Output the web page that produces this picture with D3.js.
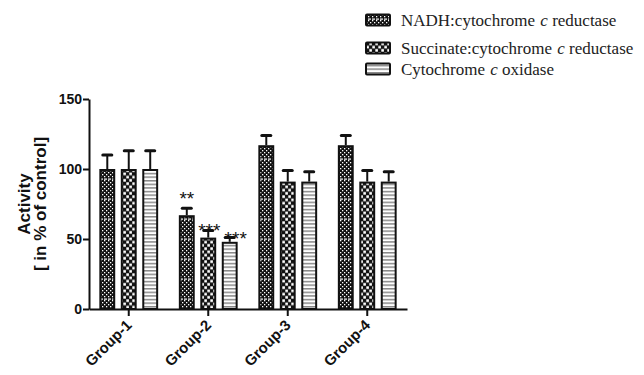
<!DOCTYPE html>
<html>
<head>
<meta charset="utf-8">
<script src="https://cdn.jsdelivr.net/npm/d3@7"></script>
<style>
  body { margin: 0; background: #fff; }
  svg { display: block; }
</style>
</head>
<body>
<script>
const groups = ["Group-1", "Group-2", "Group-3", "Group-4"];
const seriesNames = ["NADH:cytochrome c reductase", "Succinate:cytochrome c reductase", "Cytochrome c oxidase"];
const nadh = [100, 67, 117, 117];
const succinate = [100, 51, 91, 91];
const oxidase = [100, 48, 91, 91];
const nadhErr = [10, 5, 7, 7];
const succinateErr = [13, 5, 8, 8];
const oxidaseErr = [13, 3, 7, 7];
const stars = [["Group-2", 0, "**"], ["Group-2", 1, "***"], ["Group-2", 2, "***"]];
const yTicks = [0, 50, 100, 150];

const w = 644, h = 375;
const values = [nadh, succinate, oxidase];
const errs = [nadhErr, succinateErr, oxidaseErr];

const svg = d3.select("body").append("svg")
  .attr("width", w)
  .attr("height", h);

// fill patterns
const defs = svg.append("defs");
const p1 = defs.append("pattern").attr("id", "pat0")
  .attr("patternUnits", "userSpaceOnUse").attr("width", 4).attr("height", 20);
p1.append("rect").attr("width", 4).attr("height", 20).attr("fill", "#111");
for (let yy = 0; yy < 18; yy += 2) {
  p1.append("rect").attr("x", yy % 4 === 0 ? 0 : 2).attr("y", yy).attr("width", 1.3).attr("height", 1.3).attr("fill", "#fff");
}
p1.append("rect").attr("x", 0).attr("y", 18.5).attr("width", 3).attr("height", 1.2).attr("fill", "#fff");

const p2 = defs.append("pattern").attr("id", "pat1")
  .attr("patternUnits", "userSpaceOnUse").attr("width", 6).attr("height", 6.5);
p2.append("rect").attr("width", 6).attr("height", 6.5).attr("fill", "#111");
p2.append("rect").attr("x", 0.3).attr("y", 0.3).attr("width", 2.6).attr("height", 2.7).attr("fill", "#fff");
p2.append("rect").attr("x", 3.3).attr("y", 3.5).attr("width", 2.6).attr("height", 2.7).attr("fill", "#fff");

const p3 = defs.append("pattern").attr("id", "pat2")
  .attr("patternUnits", "userSpaceOnUse").attr("width", 4).attr("height", 3.6);
p3.append("rect").attr("width", 4).attr("height", 3.6).attr("fill", "#fff");
p3.append("rect").attr("y", 0).attr("width", 4).attr("height", 1.5).attr("fill", "#888");

const x0 = d3.scaleBand().domain(groups).range([89, 407])
  .paddingInner(0.19).paddingOuter(0.095);
const x1 = d3.scaleBand().domain(d3.range(3)).range([0, x0.bandwidth()])
  .paddingInner(0.26).paddingOuter(0.13);
const y = d3.scaleLinear().domain([0, 150]).range([309, 99]);

const rows = [];
groups.forEach((g, gi) => {
  values.forEach((vals, si) => {
    rows.push({ g, si, v: vals[gi], e: errs[si][gi] });
  });
});

const bx = d => x0(d.g) + x1(d.si);
const cx = d => bx(d) + x1.bandwidth() / 2;

// error bars (upper only)
svg.append("g").selectAll("line")
  .data(rows).enter().append("line")
  .attr("x1", cx).attr("x2", cx)
  .attr("y1", d => y(d.v)).attr("y2", d => y(d.v + d.e))
  .attr("stroke", "#111").attr("stroke-width", 2);
svg.append("g").selectAll("line")
  .data(rows).enter().append("line")
  .attr("x1", d => cx(d) - 4.5).attr("x2", d => cx(d) + 4.5)
  .attr("y1", d => y(d.v + d.e)).attr("y2", d => y(d.v + d.e))
  .attr("stroke", "#111").attr("stroke-width", 3).attr("stroke-linecap", "round");

svg.append("g").selectAll("rect")
  .data(rows).enter().append("rect")
  .attr("x", d => bx(d) + 1)
  .attr("y", d => y(d.v) + 1)
  .attr("width", x1.bandwidth() - 2)
  .attr("height", d => y(0) - y(d.v) - 1)
  .attr("fill", d => `url(#pat${d.si})`)
  .attr("stroke", "#111").attr("stroke-width", 2);

// significance stars
const starNudge = [[0, -3], [1, 6], [6, 7.5]];
svg.append("g").selectAll("text")
  .data(stars).enter().append("text")
  .attr("x", d => x0(d[0]) + x1(d[1]) + x1.bandwidth() / 2 + starNudge[d[1]][0])
  .attr("y", d => {
    const gi = groups.indexOf(d[0]);
    return y(values[d[1]][gi] + errs[d[1]][gi]) + starNudge[d[1]][1];
  })
  .attr("text-anchor", "middle")
  .style("font-family", "Liberation Sans, Arial, sans-serif")
  .style("font-size", "19px")
  .style("fill", "#111")
  .text(d => d[2]);

// axes
const yAxis = d3.axisLeft(y).tickValues(yTicks).tickSize(6).tickSizeOuter(0).tickPadding(1);
const gy = svg.append("g").attr("transform", "translate(89,0)").call(yAxis);
gy.selectAll("path, line").style("stroke", "#111").style("stroke-width", "2px");
gy.selectAll("text")
  .style("font-family", "Liberation Sans, Arial, sans-serif")
  .style("font-weight", "bold")
  .style("font-size", "14px")
  .style("fill", "#111");

const xAxis = d3.axisBottom(x0).tickSize(7).tickSizeOuter(0);
const gx = svg.append("g").attr("transform", "translate(0,309)").call(xAxis);
gx.selectAll("path, line").style("stroke", "#111").style("stroke-width", "2px");
gx.selectAll("text")
  .attr("x", 0).attr("y", 0).attr("dy", 0)
  .attr("text-anchor", "end")
  .attr("transform", "translate(4,17) rotate(-45)")
  .style("font-family", "Liberation Sans, Arial, sans-serif")
  .style("font-weight", "bold")
  .style("font-size", "15px")
  .style("fill", "#111");

// y label
const yl = svg.append("text")
  .attr("transform", "translate(0,204) rotate(-90)")
  .attr("text-anchor", "middle")
  .style("font-family", "Liberation Sans, Arial, sans-serif")
  .style("font-weight", "bold")
  .style("font-size", "17px")
  .style("fill", "#111");
yl.append("tspan").attr("x", 0).attr("y", 30).text("Activity");
yl.append("tspan").attr("x", 0).attr("y", 46).text("[ in % of control]");

// legend
const legendY = [20, 48, 69];
const legend = svg.append("g").attr("id", "legend");
seriesNames.forEach((name, i) => {
  legend.append("rect")
    .attr("x", 366).attr("y", legendY[i] - 5.5)
    .attr("width", 24).attr("height", 11).attr("rx", 1)
    .attr("fill", `url(#pat${i})`)
    .attr("stroke", "#111").attr("stroke-width", 2);
  const parts = name.split(" c ");
  const t = legend.append("text")
    .attr("x", 401).attr("y", legendY[i] + 6)
    .style("font-family", "Liberation Serif, Times New Roman, serif")
    .style("font-size", "17px")
    .style("fill", "#222");
  t.append("tspan").text(parts[0] + " ");
  t.append("tspan").attr("dx", 1).style("font-style", "italic").text("c");
  t.append("tspan").text(" " + parts[1]);
});
</script>
</body>
</html>
